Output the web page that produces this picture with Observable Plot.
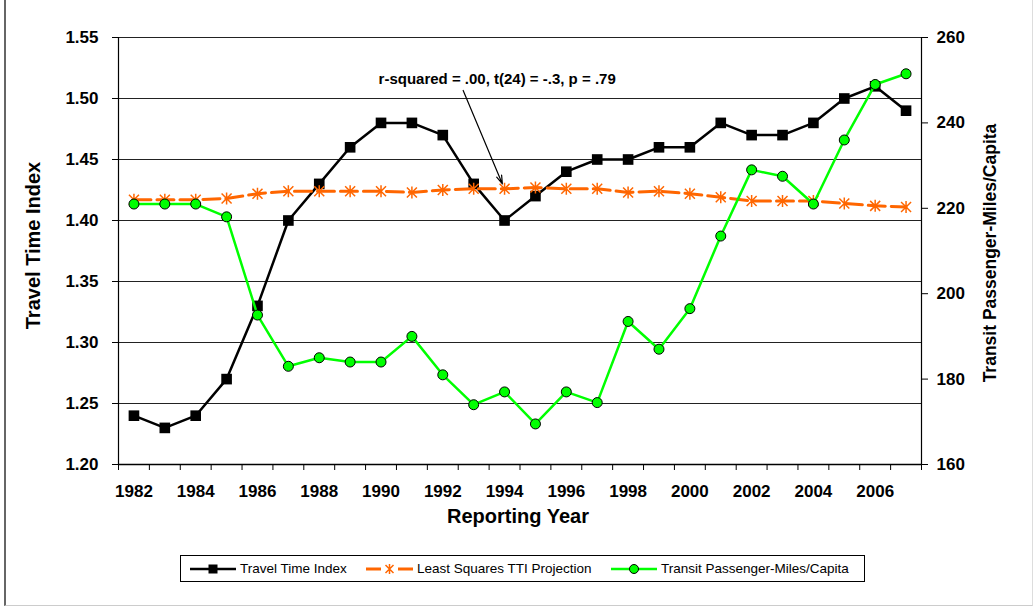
<!DOCTYPE html>
<html><head><meta charset="utf-8">
<script src="https://cdn.jsdelivr.net/npm/d3@7"></script>
<script src="https://cdn.jsdelivr.net/npm/@observablehq/plot@0.6"></script>
<style>
body{margin:0;background:#fff;}
#wrap{position:relative;width:1035px;height:607px;overflow:hidden;font-family:"Liberation Sans",Arial,sans-serif;background:#fff;}
#frame{position:absolute;left:4px;top:-2px;width:1029px;height:608px;border-left:2px solid #666;border-bottom:1px solid #ccc;border-right:1px solid #ddd;box-sizing:border-box;}
#chart{position:absolute;left:0;top:0;}
#legend{position:absolute;left:180px;top:555px;width:685px;height:27px;border:1px solid #000;box-sizing:border-box;background:#fff;}
.item{position:absolute;top:0;height:25px;display:flex;align-items:center;font-size:13.5px;color:#000;white-space:nowrap;}
.item svg{display:block;}
</style>
</head><body>
<div id="wrap"><div id="frame"></div><div id="chart"></div><div id="legend"></div></div>
<script>
// ---- data ----
const years = [1982,1983,1984,1985,1986,1987,1988,1989,1990,1991,1992,1993,1994,1995,1996,1997,1998,1999,2000,2001,2002,2003,2004,2005,2006,2007];
const tti = [1.24,1.23,1.24,1.27,1.33,1.40,1.43,1.46,1.48,1.48,1.47,1.43,1.40,1.42,1.44,1.45,1.45,1.46,1.46,1.48,1.47,1.47,1.48,1.50,1.51,1.49];
const lsProjection = [1.417,1.417,1.417,1.418,1.422,1.424,1.424,1.424,1.424,1.423,1.425,1.426,1.426,1.427,1.426,1.426,1.423,1.424,1.422,1.419,1.416,1.416,1.416,1.414,1.412,1.411];
const transit = [221,221,221,218,195,183,185,184,184,190,181,174,177,169.5,177,174.5,193.5,187,196.5,213.5,229,227.5,221,236,249,251.5];
const leftTicks = [1.20,1.25,1.30,1.35,1.40,1.45,1.50,1.55];
const rightTicks = [160,180,200,220,240,260];
const xLabelYears = [1982,1984,1986,1988,1990,1992,1994,1996,1998,2000,2002,2004,2006];
const seriesNames = ["Travel Time Index","Least Squares TTI Projection","Transit Passenger-Miles/Capita"];
const annotText = ["r-squared = .00, t(24) = -.3, p = .79"];
const annotPos = [{x:1993.76, y:1.5156}];
const arrowPos = [{x1:1992.66, y1:1.5066, x2:1993.93, y2:1.4300}];

// ---- scales helpers ----
const leftMin = 1.20, leftMax = 1.55, rightMin = 160, rightMax = 260;
const toLeft = v => leftMin + (v - rightMin) * (leftMax - leftMin) / (rightMax - rightMin);
const fromLeft = d => Math.round(rightMin + (d - leftMin) * (rightMax - rightMin) / (leftMax - leftMin));
const rows = years.map((yr, i) => ({year: yr, tti: tti[i], ls: lsProjection[i], transit: toLeft(transit[i])}));
const bounds = d3.range(years.length + 1).map(i => years[0] - 0.5 + i);
const xDomain = [bounds[0], bounds[bounds.length - 1]];

const starSymbol = {draw(ctx, size) {
  const r = Math.sqrt(size / Math.PI);
  ctx.moveTo(-r, -r); ctx.lineTo(r, r);
  ctx.moveTo(-r, r); ctx.lineTo(r, -r);
  ctx.moveTo(0, -r * 1.2); ctx.lineTo(0, r * 1.2);
}};

const FONT = '"Liberation Sans", Arial, sans-serif';
const chart = Plot.plot({
  width: 1035, height: 545,
  marginLeft: 118, marginRight: 114, marginTop: 37, marginBottom: 81,
  x: {domain: xDomain},
  y: {domain: [leftMin, leftMax]},
  style: {fontFamily: FONT, color: "#000", background: "transparent", overflow: "visible"},
  marks: [
    Plot.ruleY(leftTicks.slice(1), {stroke: "#222", strokeWidth: 1}),
    Plot.axisY(leftTicks, {anchor: "left", tickSize: 6, tickPadding: 14, tickFormat: d => d.toFixed(2), fontSize: 17, fontWeight: "bold", label: null, stroke: "#000"}),
    Plot.axisY(rightTicks.map(toLeft), {anchor: "right", tickSize: 6, tickPadding: 9, tickFormat: d => String(fromLeft(d)), fontSize: 17, fontWeight: "bold", label: null, stroke: "#000"}),
    Plot.axisX(bounds, {anchor: "bottom", tickSize: 6, tickFormat: () => "", label: null, stroke: "#000"}),
    Plot.axisX(xLabelYears, {anchor: "bottom", tickSize: 0, tickPadding: 20, tickFormat: d => String(d), fontSize: 17, fontWeight: "bold", label: null}),
    Plot.ruleX([xDomain[0], xDomain[1]], {stroke: "#000", strokeWidth: 1.2}),
    Plot.ruleY([leftMin], {stroke: "#000", strokeWidth: 1.5}),
    // Travel Time Index
    Plot.line(rows, {x: "year", y: "tti", stroke: "#000", strokeWidth: 2.5}),
    Plot.dot(rows, {x: "year", y: "tti", symbol: "square", r: 6, fill: "#000"}),
    // Least squares projection
    Plot.line(rows, {x: "year", y: "ls", stroke: "#ff6600", strokeWidth: 3, strokeDasharray: "17,6"}),
    Plot.dot(rows, {x: "year", y: "ls", symbol: starSymbol, r: 5, stroke: "#ff6600", fill: "none", strokeWidth: 1.5}),
    // Transit
    Plot.line(rows, {x: "year", y: "transit", stroke: "#00ff00", strokeWidth: 2.5}),
    Plot.dot(rows, {x: "year", y: "transit", r: 5, fill: "#00ff00", stroke: "#000", strokeWidth: 1}),
    // annotation
    Plot.arrow(arrowPos, {x1: "x1", y1: "y1", x2: "x2", y2: "y2", stroke: "#000", strokeWidth: 1.2, headLength: 11, headAngle: 35}),
    Plot.text(annotPos, {x: "x", y: "y", text: (d, i) => annotText[i], fontSize: 15, fontWeight: "bold", fill: "#000"}),
    // axis titles
    Plot.text([seriesNames[0]], {frameAnchor: "left", textAnchor: "middle", rotate: -90, dx: -85, dy: -5.5, fontSize: 20, fontWeight: "bold", fill: "#000"}),
    Plot.text([seriesNames[2]], {frameAnchor: "right", textAnchor: "middle", rotate: -90, dx: 69, dy: 2, fontSize: 17.5, fontWeight: "bold", fill: "#000"}),
    Plot.text(["Reporting Year"], {frameAnchor: "bottom", dx: -2, dy: 58, fontSize: 20, fontWeight: "bold", fill: "#000"})
  ]
});
document.getElementById("chart").appendChild(chart);

// ---- legend ----
const legend = document.getElementById("legend");
const items = [
  {left: 9, sw: 46, kind: "tti", text: seriesNames[0]},
  {left: 185, sw: 47, kind: "ls", text: seriesNames[1]},
  {left: 430, sw: 46, kind: "transit", text: seriesNames[2]}
];
for (const it of items) {
  const div = document.createElement("div");
  div.className = "item";
  div.style.left = it.left + "px";
  const w = it.sw, c = w / 2;
  let svg = `<svg width="${w}" height="14" viewBox="0 0 ${w} 14">`;
  if (it.kind === "tti") {
    svg += `<line x1="0" y1="7" x2="${w}" y2="7" stroke="#000" stroke-width="2.5"/><rect x="${c-4.5}" y="2.5" width="9" height="9" fill="#000"/>`;
  } else if (it.kind === "ls") {
    svg += `<line x1="0" y1="7" x2="15" y2="7" stroke="#ff6600" stroke-width="3"/><line x1="${w-15}" y1="7" x2="${w}" y2="7" stroke="#ff6600" stroke-width="3"/>`;
    svg += `<path d="M${c-4},3L${c+4},11M${c-4},11L${c+4},3M${c},2L${c},12" stroke="#ff6600" stroke-width="1.5" fill="none"/>`;
  } else {
    svg += `<line x1="0" y1="7" x2="${w}" y2="7" stroke="#00ff00" stroke-width="2.5"/><circle cx="${c}" cy="7" r="4.5" fill="#00ff00" stroke="#000" stroke-width="1"/>`;
  }
  svg += `</svg>`;
  div.innerHTML = svg + `<span style="margin-left:4px">${it.text}</span>`;
  legend.appendChild(div);
}
</script>
</body></html>
